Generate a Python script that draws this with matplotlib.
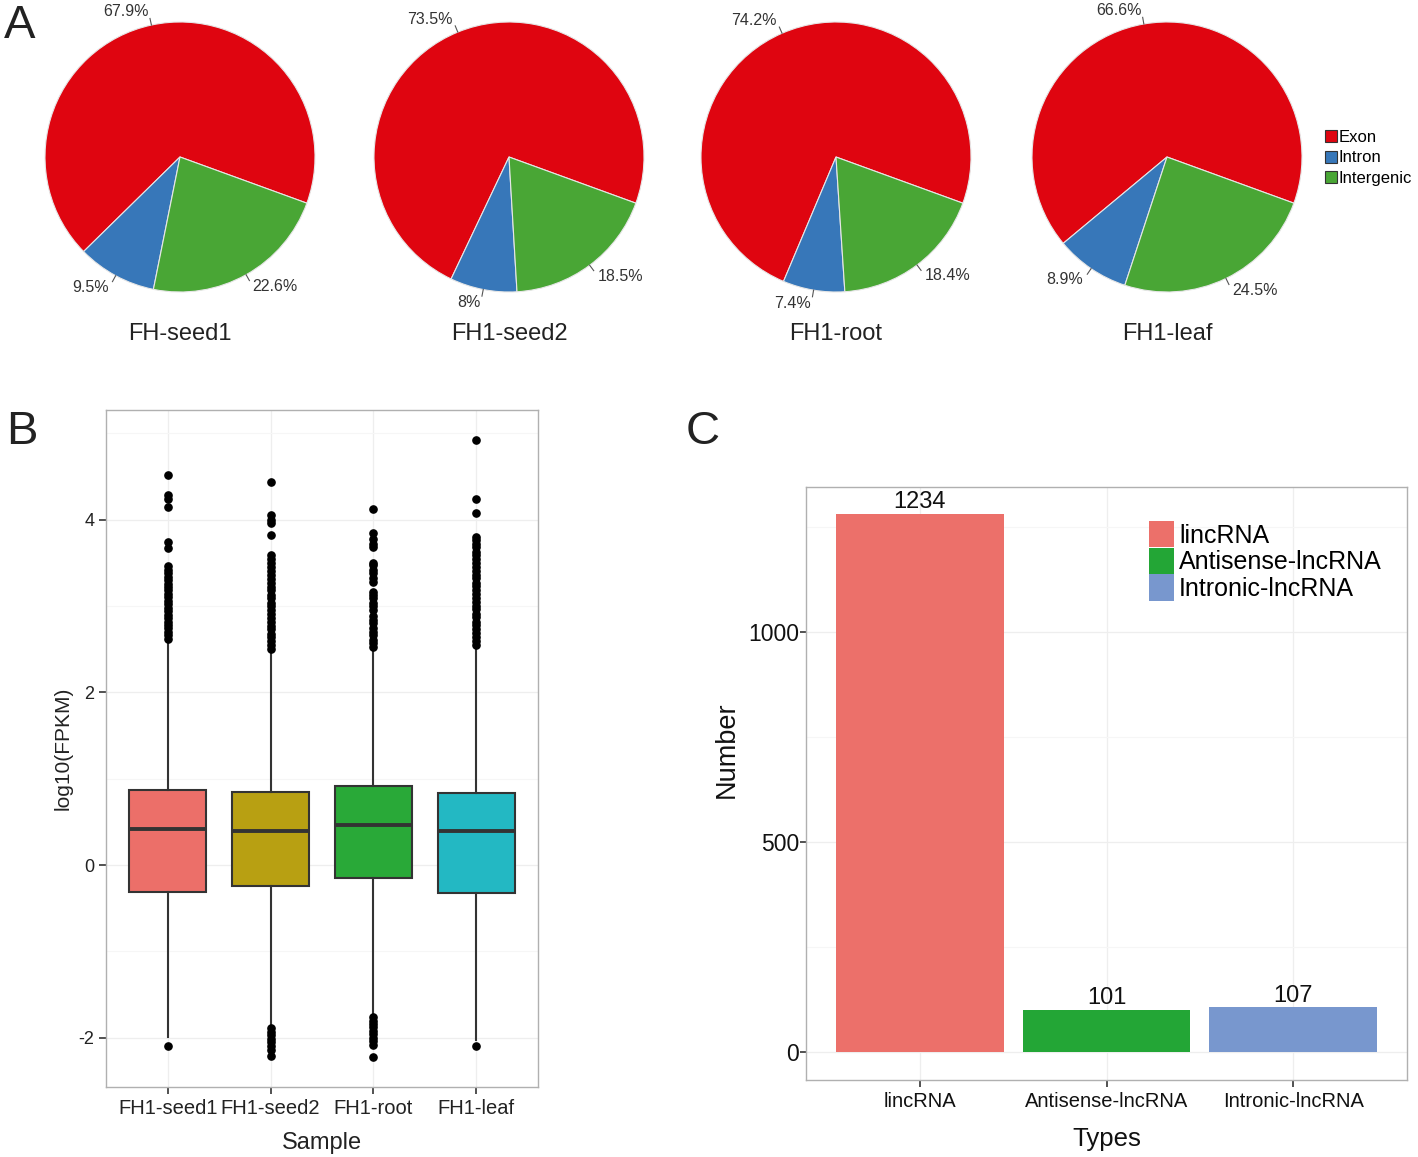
import numpy as np
import matplotlib
matplotlib.use('Agg')
import matplotlib.pyplot as plt
from matplotlib.patches import Patch

plt.rcParams['font.family'] = ['Liberation Sans', 'DejaVu Sans']
plt.rcParams['axes.unicode_minus'] = False

# ---- panel A data ----
pie_titles = ['FH-seed1', 'FH1-seed2', 'FH1-root', 'FH1-leaf']
pie_parts = ['Exon', 'Intron', 'Intergenic']
exon_pct = [67.9, 73.5, 74.2, 66.6]
intron_pct = [9.5, 8, 7.4, 8.9]
intergenic_pct = [22.6, 18.5, 18.4, 24.5]
pie_colors = ['#df0510', '#3777b9', '#49a635']

# ---- panel B data (box stats) ----
samples = ['FH1-seed1', 'FH1-seed2', 'FH1-root', 'FH1-leaf']
q1 = [-0.31, -0.24, -0.15, -0.32]
med = [0.42, 0.40, 0.46, 0.39]
q3 = [0.87, 0.85, 0.91, 0.83]
whis_lo = [-1.99, -1.87, -1.74, -2.02]
whis_hi = [2.60, 2.48, 2.50, 2.54]
fliers_seed1 = [2.62, 2.66, 2.70, 2.74, 2.78, 2.82, 2.86, 2.90, 2.94, 2.98, 3.02, 3.06,
                3.10, 3.14, 3.18, 3.22, 3.26, 3.30, 3.34, 3.38, 3.42, 3.46,
                3.67, 3.74, 4.15, 4.24, 4.28, 4.52, -2.09]
fliers_seed2 = [2.50, 2.55, 2.59, 2.64, 2.68, 2.73, 2.77, 2.82, 2.86, 2.91, 2.95, 3.00,
                3.04, 3.09, 3.13, 3.18, 3.22, 3.27, 3.31, 3.36, 3.40, 3.45, 3.50, 3.55,
                3.59, 3.82, 3.96, 4.00, 4.05, 4.44,
                -1.89, -1.93, -1.97, -2.01, -2.05, -2.09, -2.14, -2.21]
fliers_root = [2.52, 2.57, 2.61, 2.66, 2.70, 2.75, 2.80, 2.84, 2.88, 2.95, 3.00, 3.04,
               3.09, 3.13, 3.16, 3.28, 3.33, 3.38, 3.42, 3.47, 3.50, 3.68, 3.72, 3.78,
               3.85, 4.12,
               -1.76, -1.80, -1.84, -1.88, -1.92, -1.96, -2.00, -2.04, -2.08, -2.22]
fliers_leaf = [2.55, 2.60, 2.64, 2.69, 2.73, 2.78, 2.82, 2.87, 2.91, 2.96, 3.00, 3.05,
               3.09, 3.14, 3.18, 3.23, 3.27, 3.32, 3.36, 3.41, 3.45, 3.50, 3.54, 3.59,
               3.63, 3.68, 3.72, 3.77, 3.80, 4.08, 4.24, 4.92, -2.10]
box_colors = ['#ec6f69', '#b8a012', '#29a938', '#23b8c3']

# ---- panel C data ----
types = ['lincRNA', 'Antisense-lncRNA', 'Intronic-lncRNA']
bar_heights = [1281, 100, 106]   # drawn heights as they appear
bar_labels = ['1234', '101', '107']
bar_colors = ['#ec706a', '#23a636', '#7897ce']

W, H = 1418, 1157
fig = plt.figure(figsize=(W / 100, H / 100), dpi=100)


def px(x, y, w, h):
    # pixel box (left, top, width, height) -> figure fraction
    return [x / W, 1 - (y + h) / H, w / W, h / H]


# ================= A: pies =================
centers = [180, 509, 836, 1167]
R = 135
half = 175
for i, cx in enumerate(centers):
    ax = fig.add_axes(px(cx - half, 157 - half, 2 * half, 2 * half))
    vals = [exon_pct[i], intron_pct[i], intergenic_pct[i]]
    wedges, _ = ax.pie(vals, colors=pie_colors, startangle=-20, counterclock=True,
                       wedgeprops=dict(edgecolor='#e6e6e6', linewidth=0.8))
    for w, v in zip(wedges, vals):
        ang = np.deg2rad((w.theta1 + w.theta2) / 2)
        c, s = np.cos(ang), np.sin(ang)
        ax.plot([c, 1.05 * c], [s, 1.05 * s], color='#555555', lw=0.8)
        lab = ('%g' % v) + '%'
        ax.text(1.1 * c, 1.1 * s, lab, ha='left' if c > 0 else 'right', va='center',
                fontsize=11.5, color='#333333')
    lim = half / R
    ax.set_xlim(-lim, lim)
    ax.set_ylim(-lim, lim)
    ax.set_aspect('equal')
    ax.axis('off')
    fig.text(cx / W, 1 - 334 / H, pie_titles[i], ha='center', va='center',
             fontsize=17, color='#222222')

fig.legend([Patch(facecolor=c, edgecolor='#333333', lw=0.8) for c in pie_colors], pie_parts,
           loc='upper left', bbox_to_anchor=(1325 / W, 1 - 130 / H), frameon=False,
           fontsize=12, handlelength=0.7, handleheight=0.7, handletextpad=0.1,
           labelspacing=0.33, borderpad=0, borderaxespad=0)

fig.text(4 / W, 1 - 26 / H, 'A', fontsize=34, va='center', ha='left', color='#222222')
fig.text(6 / W, 1 - 432 / H, 'B', fontsize=34, va='center', ha='left', color='#222222')
fig.text(686 / W, 1 - 432 / H, 'C', fontsize=34, va='center', ha='left', color='#222222')

# ================= B: boxplot =================
axb = fig.add_axes(px(106, 410, 432, 677))
fliers = [fliers_seed1, fliers_seed2, fliers_root, fliers_leaf]
stats = []
for i in range(4):
    stats.append(dict(med=med[i], q1=q1[i], q3=q3[i], whislo=whis_lo[i],
                      whishi=whis_hi[i], fliers=fliers[i], label=samples[i]))
positions = np.arange(1, 5)
bp = axb.bxp(stats, positions=positions, widths=0.75, patch_artist=True,
             showcaps=False,
             boxprops=dict(edgecolor='#333333', linewidth=1.5),
             whiskerprops=dict(color='#333333', linewidth=1.5),
             medianprops=dict(color='#333333', linewidth=2.8),
             flierprops=dict(marker='o', markerfacecolor='black', markeredgecolor='black',
                             markersize=5.2))
for patch, c in zip(bp['boxes'], box_colors):
    patch.set_facecolor(c)
    patch.set_zorder(2)
axb.set_xlim(0.4, 4.6)
axb.set_ylim(-2.57, 5.27)
axb.set_yticks([-2, 0, 2, 4])
axb.set_yticks([-1, 1, 3, 5], minor=True)
axb.set_xticks(positions)
axb.set_xticklabels(samples)
axb.grid(True, which='major', color='#eeeeee', lw=0.9, zorder=0)
axb.grid(True, which='minor', axis='y', color='#f6f6f6', lw=0.8, zorder=0)
axb.set_axisbelow(True)
axb.tick_params(axis='y', which='major', labelsize=13, colors='#333333',
                length=5, width=1.2)
axb.tick_params(axis='x', which='major', labelsize=14.5, colors='#333333',
                length=5, width=1.2)
axb.tick_params(axis='both', which='minor', length=0)
for lab in axb.get_xticklabels() + axb.get_yticklabels():
    lab.set_color('#222222')
for sp in axb.spines.values():
    sp.set_color('#b0b0b0')
    sp.set_linewidth(1)
axb.set_xlabel('Sample', fontsize=17, color='#222222', labelpad=10)
axb.set_ylabel('log10(FPKM)', fontsize=15, color='#222222', labelpad=4)

# ================= C: bar chart =================
narrow = ['Liberation Sans Narrow', 'Liberation Sans', 'DejaVu Sans']
axc = fig.add_axes(px(806, 487, 601, 593))
xc = np.arange(1, 4)
axc.bar(xc, bar_heights, width=0.9, color=bar_colors, zorder=2)
for x, h, t in zip(xc, bar_heights, bar_labels):
    axc.text(x, h + 2, t, ha='center', va='bottom', fontsize=17, family=narrow,
             color='#111111')
axc.set_xlim(0.39, 3.61)
axc.set_ylim(-67, 1345)
axc.set_yticks([0, 500, 1000])
axc.set_yticks([250, 750, 1250], minor=True)
axc.set_xticks(xc)
axc.set_xticklabels(types, family=narrow)
axc.set_yticklabels(['0', '500', '1000'], family=narrow)
axc.grid(True, which='major', color='#eeeeee', lw=0.9, zorder=0)
axc.grid(True, which='minor', axis='y', color='#f6f6f6', lw=0.8, zorder=0)
axc.set_axisbelow(True)
axc.tick_params(axis='y', which='major', labelsize=16.5, colors='#333333',
                length=4, width=1.2, pad=1)
axc.tick_params(axis='x', which='major', labelsize=14.5, colors='#333333',
                length=5, width=1.2)
axc.tick_params(which='minor', length=0)
for lab in axc.get_xticklabels() + axc.get_yticklabels():
    lab.set_color('#111111')
for sp in axc.spines.values():
    sp.set_color('#b0b0b0')
    sp.set_linewidth(1)
axc.set_xlabel('Types', fontsize=18.5, family=narrow, color='#111111', labelpad=12)
axc.set_ylabel('Number', fontsize=19.5, family=narrow, color='#111111')
axc.yaxis.set_label_coords((740 - 806) / 601, (1080 - 750) / 593)

axc.legend([Patch(facecolor=c) for c in bar_colors], types,
           loc='upper left', bbox_to_anchor=(1149 / W, 1 - 521 / H),
           bbox_transform=fig.transFigure, frameon=False, prop=dict(family=narrow, size=18),
           handlelength=1.0, handleheight=1.25, handletextpad=0.2, labelspacing=0.0,
           borderpad=0, borderaxespad=0)

fig.savefig('out.png', dpi=100, facecolor='white')
